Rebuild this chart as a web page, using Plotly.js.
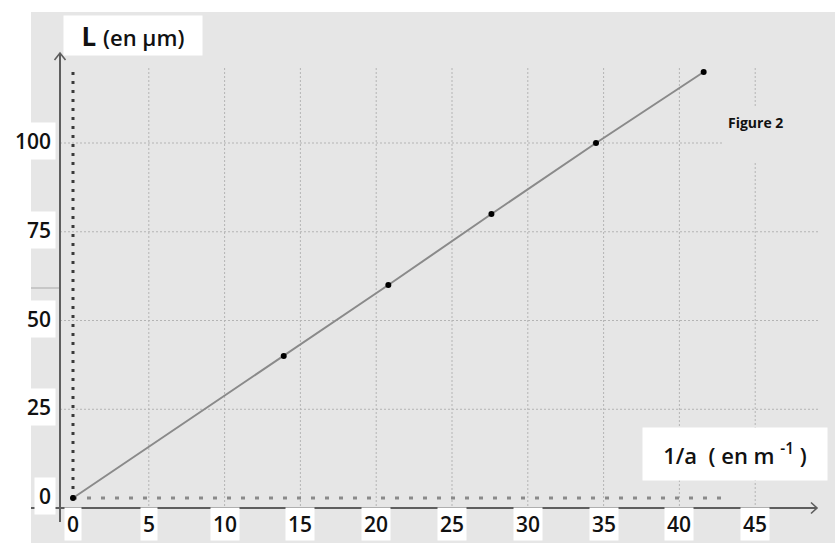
<!DOCTYPE html>
<html>
<head>
<meta charset="utf-8">
<script src="https://cdn.plot.ly/plotly-3.0.1.min.js"></script>
<style>html,body{margin:0;padding:0;background:#fff;}#chart{width:838px;height:543px;}</style>
</head>
<body>
<div id="chart"></div>
<script>
// ---- data ----
const invA = [0, 13.9, 20.8, 27.6, 34.5, 41.6];   // 1/a (m^-1)
const lengthL = [0, 40, 60, 80, 100, 120];        // L (µm)
const xTickVals = [0, 5, 10, 15, 20, 25, 30, 35, 40, 45];
const xTickText = ["0", "5", "10", "15", "20", "25", "30", "35", "40", "45"];
const yTickVals = [0, 25, 50, 75, 100];
const yTickText = ["0", "25", "50", "75", "100"];
const yTitle = "<b>L</b> <span style='font-size:22px'>(en µm)</span>";
const xTitle = "1/a  ( en m <sup>-1</sup> )";
const figLabel = "<b>Figure 2</b>";

// ---- geometry helpers (pixel <-> data for 838x543 full-bleed plot) ----
const W = 838, H = 543;
const X0PX = 73, XS = 15.16, Y0PX = 498, YS = 3.55;
const xRange = [-X0PX / XS, (W - X0PX) / XS];
const yRange = [(Y0PX - H) / YS, Y0PX / YS];
const px2x = p => (p - X0PX) / XS;
const py2y = p => (Y0PX - p) / YS;

const shapes = [];
// gray sheet
shapes.push({type: 'rect', xref: 'paper', yref: 'paper', x0: 31 / W, x1: 835 / W, y0: 0, y1: 1 - 12 / H,
  fillcolor: '#e6e6e6', line: {width: 0}, layer: 'below'});
const gridLine = {color: '#b4b4b4', width: 1, dash: '2px,2px'};
// vertical gridlines
xTickVals.forEach((v, i) => {
  if (v === 0) return;
  if (i === xTickVals.length - 1) {
    shapes.push({type: 'line', x0: v, x1: v, y0: py2y(68), y1: py2y(108), line: gridLine, layer: 'below'});
    shapes.push({type: 'line', x0: v, x1: v, y0: py2y(163), y1: py2y(512), line: gridLine, layer: 'below'});
  } else {
    shapes.push({type: 'line', x0: v, x1: v, y0: py2y(68), y1: py2y(512), line: gridLine, layer: 'below'});
  }
});
// horizontal gridlines
yTickVals.forEach(v => {
  if (v === 0) return;
  const xEnd = v === 100 ? px2x(724) : px2x(818);
  shapes.push({type: 'line', x0: px2x(60), x1: xEnd, y0: v, y1: v, line: gridLine, layer: 'below'});
});
// zero reference dotted lines
shapes.push({type: 'line', x0: 0, x1: 0, y0: 0, y1: py2y(68), line: {color: '#3a3a3a', width: 3, dash: '3px,6px'}, layer: 'below'});
shapes.push({type: 'line', x0: 0, x1: px2x(725), y0: 0, y1: 0, line: {color: '#8a8a8a', width: 3, dash: '4px,10px'}, layer: 'below'});
// axis lines
const axisLine = {color: '#5e5e5e', width: 2};
shapes.push({type: 'line', x0: px2x(60), x1: px2x(60), y0: py2y(522), y1: py2y(54), line: axisLine, layer: 'below'});
shapes.push({type: 'line', x0: px2x(31), x1: px2x(816), y0: py2y(508), y1: py2y(508), line: axisLine, layer: 'below'});
// arrow heads
shapes.push({type: 'path', path: `M ${px2x(54.5)} ${py2y(60)} L ${px2x(60)} ${py2y(53)} L ${px2x(65.5)} ${py2y(60)}`,
  line: {color: '#5e5e5e', width: 1.6}, layer: 'below'});
shapes.push({type: 'path', path: `M ${px2x(811)} ${py2y(502.5)} L ${px2x(817)} ${py2y(508)} L ${px2x(811)} ${py2y(513.5)}`,
  line: {color: '#5e5e5e', width: 1.6}, layer: 'below'});
// faint scan artefact
shapes.push({type: 'line', x0: px2x(31), x1: px2x(59), y0: py2y(288), y1: py2y(288), line: {color: '#a8a8a8', width: 1}, layer: 'below'});

const tickFont = {family: 'Open Sans, sans-serif', size: 21, color: '#111', weight: 600};
const annotations = [];
xTickVals.forEach((v, i) => {
  annotations.push({x: v, y: py2y(524), xref: 'x', yref: 'y', text: xTickText[i], showarrow: false,
    font: tickFont, bgcolor: '#ffffff', borderpad: 2, xanchor: 'center', yanchor: 'middle'});
});
yTickVals.forEach((v, i) => {
  annotations.push({x: 56 / W, y: v, xref: 'paper', yref: 'y', text: yTickText[i], showarrow: false,
    font: tickFont, bgcolor: '#ffffff', borderpad: 4, xanchor: 'right', yanchor: 'middle', yshift: 2});
});
annotations.push({x: 133 / W, y: 1 - 35.5 / H, xref: 'paper', yref: 'paper', text: yTitle, showarrow: false,
  font: {family: 'Open Sans, sans-serif', size: 26, color: '#111', weight: 600}, bgcolor: '#ffffff',
  width: 134, height: 35, borderpad: 2, xanchor: 'center', yanchor: 'middle'});
annotations.push({x: 735 / W, y: 1 - 454 / H, xref: 'paper', yref: 'paper', text: xTitle, showarrow: false,
  font: {family: 'Open Sans, sans-serif', size: 22, color: '#111', weight: 600}, bgcolor: '#ffffff',
  width: 180, height: 48, borderpad: 2, xanchor: 'center', yanchor: 'middle'});
annotations.push({x: 755 / W, y: 1 - 123 / H, xref: 'paper', yref: 'paper', text: figLabel, showarrow: false,
  font: {family: 'Open Sans, sans-serif', size: 14, color: '#111'}, xanchor: 'center', yanchor: 'middle'});

const trace = {
  x: invA, y: lengthL, type: 'scatter', mode: 'lines+markers',
  line: {color: '#8a8a8a', width: 2},
  marker: {color: '#000', size: 6},
  hoverinfo: 'skip', showlegend: false
};

const layout = {
  width: W, height: H,
  margin: {l: 0, r: 0, t: 0, b: 0},
  paper_bgcolor: '#ffffff', plot_bgcolor: '#ffffff',
  xaxis: {range: xRange, visible: false, fixedrange: true},
  yaxis: {range: yRange, visible: false, fixedrange: true},
  shapes: shapes, annotations: annotations, showlegend: false
};
Plotly.newPlot('chart', [trace], layout, {displayModeBar: false, staticPlot: true});
</script>
</body>
</html>
